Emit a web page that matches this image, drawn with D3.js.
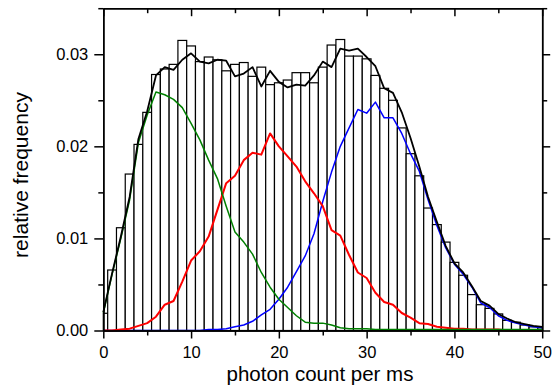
<!DOCTYPE html>
<html>
<head>
<meta charset="utf-8">
<script src="https://cdn.jsdelivr.net/npm/d3@7"></script>
<style>
  body { margin: 0; background: #fff; }
  text { font-family: "Liberation Sans", Arial, sans-serif; fill: #000; }
</style>
</head>
<body>
<div id="chart"></div>
<script>
// photon count bins (bin width 1, centred on the integers)
const photonCounts = d3.range(0, 51);

const histFreq = [
  0.00187, 0.00657, 0.01116, 0.01699, 0.02021, 0.02369, 0.0278, 0.0284, 0.0289, 0.0315,
  0.0309, 0.0292, 0.0297, 0.0294, 0.0282, 0.0289, 0.0291, 0.0276, 0.0286, 0.0267,
  0.0269, 0.0272, 0.0280, 0.0280, 0.0269, 0.0286, 0.0310, 0.0316, 0.0298, 0.0298,
  0.0295, 0.0277, 0.0263, 0.0250, 0.0220, 0.0192, 0.0168, 0.0133, 0.0115, 0.0096,
  0.0074, 0.0060, 0.0039, 0.0028, 0.0024, 0.0018, 0.0011, 0.0009, 0.0006, 0.0004,
  0.0003
];

// fitted components
const fitTotal = [
  0.0020, 0.0062, 0.0102, 0.0145, 0.0208, 0.0238, 0.0277, 0.0286, 0.0283, 0.0294,
  0.0301, 0.0292, 0.0290, 0.0294, 0.0293, 0.0276, 0.0279, 0.0286, 0.0265, 0.0282,
  0.0270, 0.0264, 0.0267, 0.0266, 0.0277, 0.0292, 0.0286, 0.0306, 0.0304, 0.0306,
  0.0297, 0.0287, 0.0263, 0.0258, 0.0237, 0.0209, 0.0178, 0.0145, 0.0118, 0.0092,
  0.0073, 0.0063, 0.0048, 0.0032, 0.0027, 0.0018, 0.0013, 0.0009, 0.0007, 0.0005,
  0.0004
];

const fitLow = [
  0.0019, 0.0061, 0.0100, 0.0142, 0.0204, 0.0234, 0.0259, 0.0256, 0.0251, 0.0242,
  0.0225, 0.0207, 0.0185, 0.0165, 0.0135, 0.0107, 0.0096, 0.0083, 0.0063, 0.0047,
  0.0034, 0.0025, 0.0016, 0.0009, 0.0008, 0.0008, 0.0006, 0.0003, 0.0002, 0.0002,
  0.0002, 0.0001, 0.0001, 0.0001, 0.0001, 0.0001, 0.0001, 0.0001, 0.0001, 0.0001,
  0.0001, 0.0001, 0.0001, 0.0001, 0.0001, 0.0001, 0.0001, 0.0001, 0.0001, 0.0001,
  0.0001
];

const fitMid = [
  0, 0, 0.0001, 0.0002, 0.0005, 0.0008, 0.0015, 0.0028, 0.0032, 0.0053,
  0.0076, 0.0086, 0.0102, 0.0131, 0.0160, 0.0168, 0.0185, 0.0193, 0.0191, 0.0214,
  0.0200, 0.0189, 0.0178, 0.0162, 0.0149, 0.0135, 0.0109, 0.0103, 0.0082, 0.0063,
  0.0057, 0.0041, 0.0031, 0.0028, 0.0019, 0.0014, 0.0008, 0.0007, 0.0004, 0.0003,
  0.0002, 0.0002, 0.0001, 0.0001, 0.0001, 0.0001, 0, 0, 0, 0,
  0
];

const fitHigh = [
  0, 0, 0, 0, 0, 0, 0, 0, 0, 0,
  0, 0, 0.0001, 0.0001, 0.0002, 0.0004, 0.0006, 0.0010, 0.0017, 0.0023,
  0.0034, 0.0047, 0.0064, 0.0081, 0.0105, 0.0140, 0.0172, 0.0200, 0.0220, 0.0240,
  0.0236, 0.0248, 0.0231, 0.0231, 0.0214, 0.0192, 0.0173, 0.0142, 0.0114, 0.0090,
  0.0072, 0.0061, 0.0047, 0.0030, 0.0025, 0.0016, 0.0011, 0.0008, 0.0006, 0.0004,
  0.0003
];

const xTicks = [0, 10, 20, 30, 40, 50];
const xMinorTicks = [5, 15, 25, 35, 45];
const yTicks = [0, 0.01, 0.02, 0.03];
const yMinorTicks = [0.005, 0.015, 0.025, 0.035];

const width = 553,
  height = 386,
  margin = { top: 8.2, right: 10.8, bottom: 55.5, left: 103.3 };

const svg = d3
  .select("#chart")
  .append("svg")
  .attr("width", width)
  .attr("height", height)
  .attr("viewBox", [0, 0, width, height]);

const x = d3
  .scaleLinear()
  .domain([0, 50])
  .range([margin.left, width - margin.right]);

const y = d3
  .scaleLinear()
  .domain([0, 0.035])
  .range([height - margin.bottom, margin.top]);

// histogram bars, clipped to the axis range
svg
  .append("g")
  .selectAll("rect")
  .data(photonCounts)
  .join("rect")
  .attr("x", (d) => x(Math.max(0, d - 0.5)))
  .attr("width", (d) => x(Math.min(50, d + 0.5)) - x(Math.max(0, d - 0.5)))
  .attr("y", (d, i) => y(histFreq[i]))
  .attr("height", (d, i) => y(0) - y(histFreq[i]))
  .attr("fill", "#fff")
  .attr("stroke", "#000")
  .attr("stroke-width", 1.2);

const line = (values) =>
  d3
    .line()
    .x((d) => x(d))
    .y((d, i) => y(values[i]))(photonCounts);

// components first, total fit on top
[
  [fitHigh, "#0000ff", 1.5],
  [fitMid, "#ff0000", 2],
  [fitLow, "#008000", 1.5],
  [fitTotal, "#000", 1.8],
].forEach(([vals, color, w]) => {
  svg
    .append("path")
    .attr("d", line(vals))
    .attr("fill", "none")
    .attr("stroke", color)
    .attr("stroke-width", w)
    .attr("stroke-linejoin", "round");
});

// axes on all four sides
function styleAxis(g) {
  g.selectAll("path, line").attr("stroke", "#000").attr("stroke-width", 1.5);
  g.selectAll("text").style("font-size", "16.5px").attr("fill", "#000");
}

const bottom = height - margin.bottom;

svg
  .append("g")
  .attr("transform", `translate(0,${bottom})`)
  .call(d3.axisBottom(x).tickValues(xTicks).tickSizeInner(8).tickSizeOuter(0).tickPadding(8))
  .call(styleAxis);
svg
  .append("g")
  .attr("transform", `translate(0,${bottom})`)
  .call(d3.axisBottom(x).tickValues(xMinorTicks).tickSizeInner(5).tickSizeOuter(0).tickFormat(""))
  .call(styleAxis);

svg
  .append("g")
  .attr("transform", `translate(0,${margin.top})`)
  .call(d3.axisTop(x).tickValues(xTicks).tickSizeInner(-8).tickSizeOuter(0).tickFormat(""))
  .call(styleAxis);
svg
  .append("g")
  .attr("transform", `translate(0,${margin.top})`)
  .call(d3.axisTop(x).tickValues(xMinorTicks).tickSizeInner(-5).tickSizeOuter(0).tickFormat(""))
  .call(styleAxis);

svg
  .append("g")
  .attr("transform", `translate(${margin.left},0)`)
  .call(d3.axisLeft(y).tickValues(yTicks).tickSizeInner(9).tickSizeOuter(0).tickPadding(6).tickFormat(d3.format(".2f")))
  .call(styleAxis);
svg
  .append("g")
  .attr("transform", `translate(${margin.left},0)`)
  .call(d3.axisLeft(y).tickValues(yMinorTicks).tickSizeInner(5).tickSizeOuter(0).tickFormat(""))
  .call(styleAxis);

svg
  .append("g")
  .attr("transform", `translate(${width - margin.right},0)`)
  .call(d3.axisRight(y).tickValues(yTicks).tickSizeInner(8).tickSizeOuter(0).tickFormat(""))
  .call(styleAxis);
svg
  .append("g")
  .attr("transform", `translate(${width - margin.right},0)`)
  .call(d3.axisRight(y).tickValues(yMinorTicks).tickSizeInner(5).tickSizeOuter(0).tickFormat(""))
  .call(styleAxis);

// axis titles
svg
  .append("text")
  .attr("x", 320)
  .attr("y", 381)
  .attr("text-anchor", "middle")
  .style("font-size", "20.5px")
  .text("photon count per ms");

svg
  .append("text")
  .attr("transform", "translate(28,175) rotate(-90)")
  .attr("text-anchor", "middle")
  .style("font-size", "21px")
  .text("relative frequency");
</script>
</body>
</html>
